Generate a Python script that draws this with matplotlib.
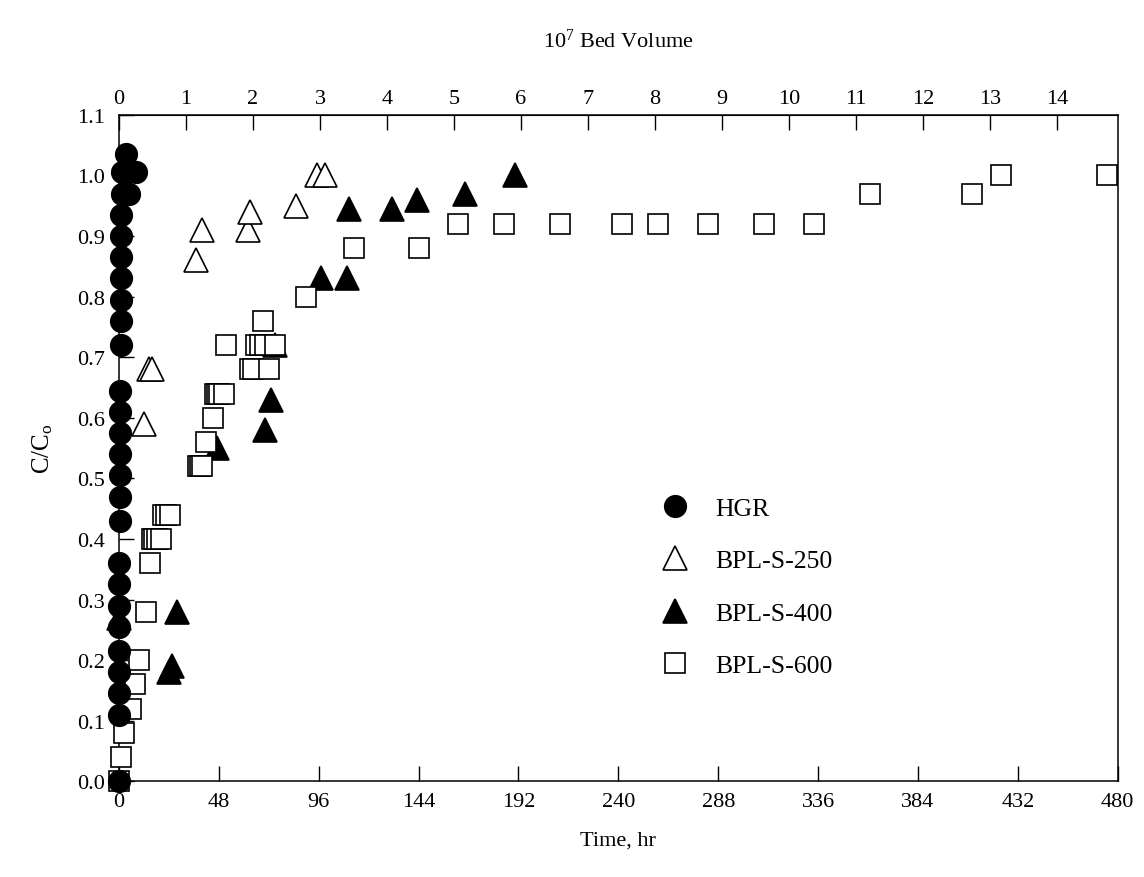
import numpy as np
import matplotlib
matplotlib.use('Agg')
import matplotlib.pyplot as plt

plt.rcParams['font.family'] = ['Liberation Serif', 'DejaVu Serif']
plt.rcParams['mathtext.fontset'] = 'custom'
plt.rcParams['mathtext.rm'] = 'Liberation Serif'
plt.rcParams['mathtext.it'] = 'Liberation Serif:italic'

# breakthrough data (time in hr, C/Co)
hgr_time = [0, 0, 0, 0, 0, 0, 0, 0, 0,
            0.3, 0.3, 0.3, 0.3, 0.3, 0.3, 0.3,
            1, 1, 1, 1, 1, 1, 1,
            1.5, 5, 1.5, 4.5, 8, 3.5]
hgr_c = [0.0, 0.11, 0.145, 0.18, 0.215, 0.255, 0.29, 0.325, 0.36,
         0.43, 0.47, 0.505, 0.54, 0.575, 0.61, 0.645,
         0.72, 0.76, 0.795, 0.83, 0.865, 0.90, 0.935,
         0.97, 0.97, 1.005, 1.005, 1.005, 1.035]

s250_time = [0, 12, 14.5, 16, 37, 40, 62, 63, 85, 95, 99]
s250_c = [0.27, 0.59, 0.68, 0.68, 0.86, 0.91, 0.91, 0.94, 0.95, 1.0, 1.0]

s400_time = [24, 25.5, 28, 47, 70, 73, 75, 97, 109.5, 110.5, 131, 143, 166.5, 190.5]
s400_c = [0.18, 0.19, 0.28, 0.55, 0.58, 0.63, 0.72, 0.83, 0.83, 0.945, 0.945, 0.96, 0.97, 1.0]

s600_time = [0, 0.8, 2.4, 5.6, 7.7, 9.6, 12.8, 14.8,
             16, 17, 18.5, 20, 21, 22.5, 24.5,
             38, 39, 40, 42, 45, 46, 47, 48, 50.5,
             51.5, 63, 64.5, 72, 66, 68, 70, 75, 69, 90,
             113, 144, 163, 185, 212, 242, 259, 283, 310, 334,
             361, 410, 424, 475]
s600_c = [0.0, 0.04, 0.08, 0.12, 0.16, 0.20, 0.28, 0.36,
          0.40, 0.40, 0.40, 0.40, 0.44, 0.44, 0.44,
          0.52, 0.52, 0.52, 0.56, 0.60, 0.64, 0.64, 0.64, 0.64,
          0.72, 0.68, 0.68, 0.68, 0.72, 0.72, 0.72, 0.72, 0.76, 0.80,
          0.88, 0.88, 0.92, 0.92, 0.92, 0.92, 0.92, 0.92, 0.92, 0.92,
          0.97, 0.97, 1.0, 1.0]

HR_PER_BV = 32.2  # hours per 10^7 bed volumes

fig = plt.figure(figsize=(11.44, 8.78), dpi=100)
ax = fig.add_axes([0.104, 0.109, 0.873, 0.759])

ms_kw = dict(linestyle='none', clip_on=False, markeredgewidth=1.2)
ax.plot(s250_time, s250_c, marker='^', markersize=17, markerfacecolor='white',
        markeredgecolor='black', label='BPL-S-250', zorder=3, **ms_kw)
ax.plot(s400_time, s400_c, marker='^', markersize=17, markerfacecolor='black',
        markeredgecolor='black', label='BPL-S-400', zorder=3, **ms_kw)
ax.plot(s600_time, s600_c, marker='s', markersize=14, markerfacecolor='white',
        markeredgecolor='black', label='BPL-S-600', zorder=4, **ms_kw)
ax.plot(hgr_time, hgr_c, marker='o', markersize=15.5, markerfacecolor='black',
        markeredgecolor='black', label='HGR', zorder=5, **ms_kw)

ax.set_xlim(0, 480)
ax.set_ylim(0, 1.1)
ax.set_xticks(np.arange(0, 481, 48))
ax.set_yticks(np.arange(0, 1.11, 0.1))
ax.yaxis.set_major_formatter(plt.FormatStrFormatter('%.1f'))
ax.tick_params(direction='in', length=11, width=1, labelsize=16)
ax.tick_params(axis='x', pad=8)
ax.tick_params(axis='y', pad=10)
for s in ax.spines.values():
    s.set_linewidth(1.1)

ax.set_xlabel('Time, hr', fontsize=16, labelpad=14)
ax.set_ylabel(r'C/C$_{\mathrm{o}}$', fontsize=18, labelpad=16)

top = ax.secondary_xaxis('top', functions=(lambda x: x / HR_PER_BV, lambda v: v * HR_PER_BV))
top.set_xticks(np.arange(0, 15, 1))
top.tick_params(direction='in', length=11, width=1, labelsize=16, pad=5)
top.set_xlabel(r'10$^{7}$ Bed Volume', fontsize=16, labelpad=30)

handles, labels = ax.get_legend_handles_labels()
order = [3, 0, 1, 2]
ax.legend([handles[i] for i in order], [labels[i] for i in order],
          loc='upper left', bbox_to_anchor=(0.508, 0.462), frameon=False,
          fontsize=18.5, labelspacing=1.15, handletextpad=0.55, numpoints=1)

plt.savefig('out.png', dpi=100)
